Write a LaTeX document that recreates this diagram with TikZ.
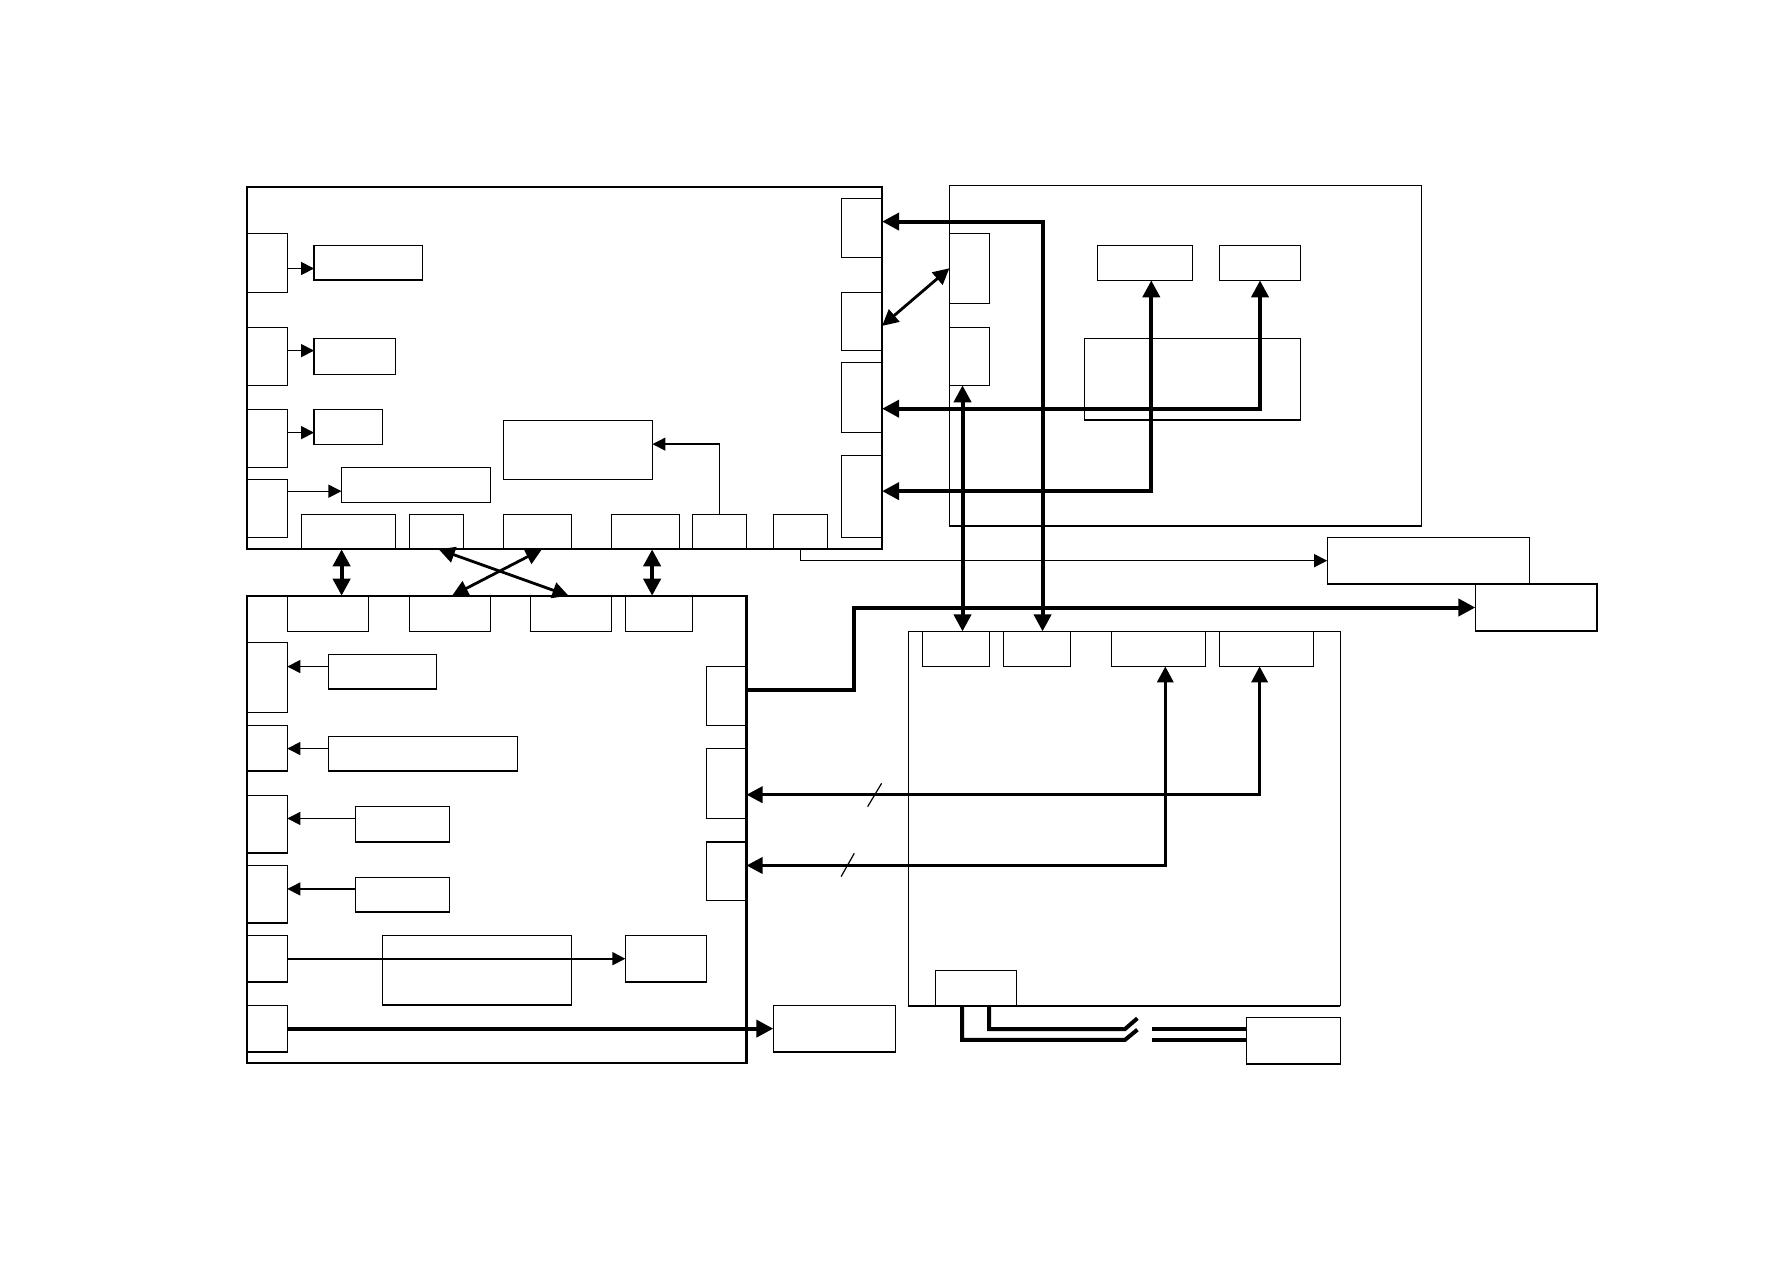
\documentclass[tikz,border=0pt]{standalone}
\usetikzlibrary{arrows.meta}
\begin{document}
\begin{tikzpicture}[x=0.2mm, y=-0.2mm]
    \tikzset{
      box/.style={draw, line width=0.6pt, inner sep=0pt, outer sep=0pt},
      blk/.style={box, line width=1.1pt},
      arr/.style={line width=0.65pt, -{Triangle[length=6.5pt,width=6.5pt]}},
      bus/.style={line width=2pt, {Triangle[length=8.5pt,width=8.5pt]}-{Triangle[length=8.5pt,width=8.5pt]}},
      sig/.style={line width=1.7pt, {Triangle[length=8pt,width=8pt]}-{Triangle[length=8pt,width=8pt]}},
      link/.style={line width=1.4pt, {Triangle[length=8pt,width=8pt]}-{Triangle[length=8pt,width=8pt]}},
      feed/.style={line width=2pt, -{Triangle[length=8.5pt,width=8.5pt]}},
      cable/.style={line width=2pt},
    }
    \useasboundingbox (0,0) rectangle (1568,1108);
    % main blocks
    \foreach \n/\xa/\ya/\xb/\yb in {blkA/216.5/164/774/482, blkC/216.5/522.7/655/933} {
      \node[blk, minimum width={(\xb-\xa)*0.2mm}, minimum height={(\yb-\ya)*0.2mm}]
        (\n) at ({(\xa+\xb)/2},{(\ya+\yb)/2}) {};
    }
    % thin frames and boxes
    \foreach \n/\xa/\ya/\xb/\yb in {
      blkB/833/163/1247/461.5, blkD/797/554/1176/882.5,
      a1/216.5/204.7/252.3/256.5, a2/216.5/287.2/252.3/338.1,
      a3/216.5/359.2/252.3/410, a4/216.5/420.6/252.3/471.4,
      a1t/275.6/215.3/370.5/245.7, a2t/275.6/296.9/346.8/328.4,
      a3t/275.6/359.2/335.4/389.9, a4t/299.6/410/430.3/440.7,
      m/441.8/368.8/572.5/420.6,
      b1/264.6/451.3/346.9/482, b2/359.5/451.3/406.5/482, b3/441.6/451.3/501.3/482,
      b4/536.4/451.3/596/482, b5/607.5/451.3/654.8/482, b6/678.4/451.3/726.1/482,
      r1/738.2/174/774/225.8, r2/738.2/256.5/774/307.4,
      r3/738.2/317.9/774/379.3, r4/738.2/399.5/774/471.4,
      bl1/833/204.7/868.1/266.1, bl2/833/287.2/868.1/338.1,
      bt1/963/215.3/1046.4/246, bt2/1069.9/215.3/1141.3/246,
      bm/951.4/297.2/1141.3/368.5,
      ct1/252.1/522.7/323.2/553.9, ct2/359.2/522.7/430.2/553.9,
      ct3/465.3/522.7/536.4/553.9, ct4/548.7/522.7/607.5/553.9,
      cl1/216.5/563.6/252.1/625.3, cl2/216.5/636.4/252.1/676.5,
      cl3/216.5/697.8/252.1/748.5, cl4/216.5/759.3/252.1/809.9,
      cl5/216.5/820.7/252.1/861.7, cl6/216.5/882.1/252.1/923,
      cr1/619.7/584.7/655/636.4, cr2/619.7/656.6/655/718, cr3/619.7/738.8/655/790,
      l1/288.1/574.1/382.8/604.6, l2/288.1/646.1/453.9/676.5,
      l3/311.8/707.5/394.2/738.8, l4/311.8/769.8/394.2/800.2,
      l5/335.5/820.7/501.3/881.8, l5b/548.7/820.7/619.7/861.7,
      ext6/678.5/882.1/785.6/923,
      d1/809.3/554/868/584.7, d2/880.6/554/939/584.7,
      d3/975.4/554/1057.6/584.7, d4/1070.1/554/1152.4/584.7,
      d5/820.7/851.4/891.9/882.7,
      e1/1164.5/471.5/1341.8/512.4, e2/1294.5/512.4/1401.3/553.7,
      f/1093.6/892.6/1176.3/933.6} {
      \node[box, minimum width={(\xb-\xa)*0.2mm}, minimum height={(\yb-\ya)*0.2mm}]
        (\n) at ({(\xa+\xb)/2},{(\ya+\yb)/2}) {};
    }
    \draw[line width=1.1pt] (blkD.south west) -- (blkD.south east);
    % taps on the left edges
    \foreach \s/\t/\dy in {a1/a1t/-1, a2/a2t/1, a3/a3t/1, a4/a4t/3} {
      \coordinate (p) at ([yshift=\dy*1mm]\s.east);
      \draw[arr] (p) -- (p -| \t.west);
    }
    \foreach \s/\t/\dy in {l1/cl1/0.9, l2/cl2/0.9, l3/cl3/1, l4/cl4/1} {
      \coordinate (p) at ([yshift=\dy*1mm]\s.west);
      \draw[arr] (p) -- (p -| \t.east);
    }
    \draw[arr] (b5.north) |- ([yshift=1mm]m.east);
    \draw[arr, line width=0.9pt] (cl5.east) -- (cl5.east -| l5b.west);
    \draw[feed] (cl6.east) -- (ext6.west);
    % links between the two left blocks
    \coordinate (q1) at ([xshift=-1.2mm]b1.south);
    \coordinate (q2) at ([xshift=1.2mm]b4.south);
    \draw[bus] (q1) -- (q1 |- ct1.north);
    \draw[bus] (q2) -- (q2 |- ct4.north);
    \draw[link] ([xshift=0.4mm]b2.south) -- ([xshift=-0.4mm]ct3.north);
    \draw[link] ([xshift=0.8mm]b3.south) -- ([xshift=0.4mm]ct2.north);
    % buses to the right blocks
    \draw[bus] ([yshift=1.1mm]r1.east) -| ([xshift=1mm]d2.north);
    \draw[link] ([yshift=-0.8mm]r2.east) -- (bl1.west);
    \draw[bus] ([yshift=-2mm]r3.east) -| (bt2.south);
    \draw[bus] ([yshift=0.9mm]r4.east) -| ([xshift=1.1mm]bt1.south);
    \coordinate (q3) at ([xshift=-1.2mm]bl2.south);
    \draw[bus] (q3) -- (q3 |- d1.north);
    \draw[arr] (b6.south) |- (e1.west);
    \coordinate (k1) at (749.3,0);
    \draw[feed] ([yshift=1.1mm]cr1.east) -| (k1 |- e2.west) -- (e2.west);
    \draw[sig] ([xshift=-1.2mm]d4.south) |- ([yshift=-2mm]cr2.east);
    \draw[sig] ([xshift=1.2mm]d3.south) |- ([yshift=1mm]cr3.east);
    \draw[line width=0.6pt] (761.3,707.8) -- (773.6,687.3);
    \draw[line width=0.6pt] (738,769.2) -- (749.6,748.7);
    % cable with break
    \draw[cable] ([xshift=-2.4mm]d5.south) |- (987,912.5) -- (998,903.5);
    \draw[cable] ([xshift=2.3mm]d5.south) |- (987,903) -- (998,893.5);
    \coordinate (s1) at (1010.5,903);
    \coordinate (s2) at (1010.5,912.5);
    \draw[cable] (s1) -- (s1 -| f.west);
    \draw[cable] (s2) -- (s2 -| f.west);
\end{tikzpicture}
\end{document}
